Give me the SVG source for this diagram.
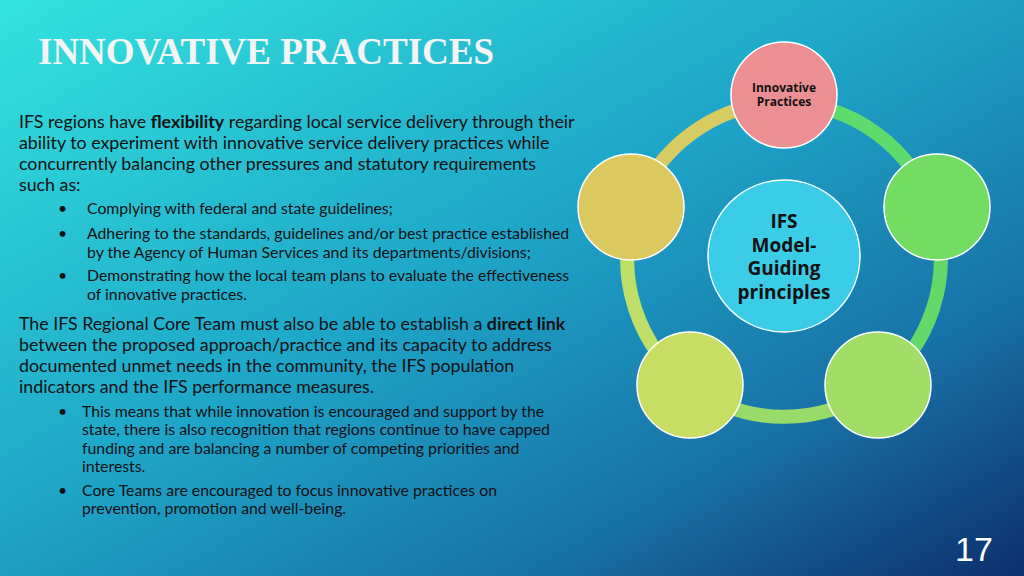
<svg xmlns="http://www.w3.org/2000/svg" width="1024" height="576" viewBox="0 0 1024 576">
<defs>
<linearGradient id="bg" x1="0" y1="0" x2="1" y2="1">
<stop offset="0" stop-color="#33e3de"/>
<stop offset="0.45" stop-color="#1ea6c9"/>
<stop offset="0.75" stop-color="#1873a8"/>
<stop offset="1" stop-color="#0d2f6e"/>
</linearGradient>
<style>
.t{font-family:Lato,"Open Sans",sans-serif;font-size:17.8px;fill:#111}
.b{font-family:Lato,"Open Sans",sans-serif;font-size:15.8px;fill:#111}
.n{stroke:#fff;stroke-width:1.5}
.r{fill:none;stroke-width:14}
.c{font-family:"Open Sans",sans-serif;font-weight:bold;fill:#111;text-anchor:middle}
</style>
</defs>
<rect width="1024" height="576" fill="url(#bg)"/>
<text x="38" y="64" font-family="Liberation Serif,serif" font-weight="bold" font-size="37" fill="#f4f4f4">INNOVATIVE PRACTICES</text>
<g id="text">
<text class="t" x="19" y="128">IFS regions have <tspan font-weight="bold">flexibility</tspan> regarding local service delivery through their</text>
<text class="t" x="19" y="149">ability to experiment with innovative service delivery  practices while</text>
<text class="t" x="19" y="170">concurrently balancing other pressures and statutory requirements</text>
<text class="t" x="19" y="191">such as:</text>
<text class="b" x="58" y="214">•</text><text class="b" x="87" y="214">Complying with federal and state guidelines;</text>
<text class="b" x="58" y="239">•</text><text class="b" x="87" y="239">Adhering to the standards, guidelines and/or best practice established</text>
<text class="b" x="87" y="258">by the Agency of Human Services and its departments/divisions;</text>
<text class="b" x="58" y="281">•</text><text class="b" x="87" y="281">Demonstrating how the local team plans to evaluate the effectiveness</text>
<text class="b" x="87" y="300">of innovative practices.</text>
<text class="t" x="19" y="330">The IFS Regional Core Team must also be able to establish a <tspan font-weight="bold">direct link</tspan></text>
<text class="t" x="19" y="351">between the proposed approach/practice and its capacity to address</text>
<text class="t" x="19" y="372">documented unmet needs in the community, the IFS population</text>
<text class="t" x="19" y="393">indicators and the IFS performance measures.</text>
<text class="b" x="58" y="417">•</text><text class="b" x="82" y="417">This means that while innovation is encouraged and support by the</text>
<text class="b" x="82" y="435">state, there is also recognition that regions continue to have capped</text>
<text class="b" x="82" y="454">funding and are balancing a number of competing priorities and</text>
<text class="b" x="82" y="472">interests.</text>
<text class="b" x="58" y="496">•</text><text class="b" x="82" y="496">Core Teams are encouraged to focus innovative practices on</text>
<text class="b" x="82" y="514">prevention, promotion and well-being.</text>
</g>
<g id="connectors">
<path class="r" stroke="#5fdb6e" d="M784 103 A157 157 0 0 1 933 211.5"/>
<path class="r" stroke="#66d86a" d="M933 211.5 A157 157 0 0 1 876 387"/>
<path class="r" stroke="#98db68" d="M876 387 A157 157 0 0 1 692 387"/>
<path class="r" stroke="#bfdf68" d="M692 387 A157 157 0 0 1 635 211.5"/>
<path class="r" stroke="#d7cc62" d="M635 211.5 A157 157 0 0 1 784 103"/>
</g>
<g id="n-top"><circle class="n" cx="784" cy="95" r="53" fill="#ec8f93"/>
<text class="c" x="784" y="92" font-size="12" font-weight="600">Innovative</text><text class="c" x="784" y="106" font-size="12" font-weight="600">Practices</text></g>
<g id="n-right"><circle class="n" cx="937" cy="207" r="53" fill="#73dc63"/></g>
<g id="n-br"><circle class="n" cx="878" cy="385" r="53" fill="#a3dd67"/></g>
<g id="n-bl"><circle class="n" cx="690" cy="385" r="53" fill="#c8dd63"/></g>
<g id="n-left"><circle class="n" cx="631" cy="207" r="53" fill="#dbc95f"/></g>
<g id="n-center"><circle class="n" cx="784" cy="256" r="76" fill="#3bcde8"/>
<text class="c" x="784" y="228" font-size="19">IFS</text>
<text class="c" x="784" y="252" font-size="19">Model-</text>
<text class="c" x="784" y="275" font-size="19">Guiding</text>
<text class="c" x="784" y="299" font-size="19">principles</text></g>
<text x="974" y="561" font-family="Liberation Sans,sans-serif" font-size="34" fill="#fff" text-anchor="middle">17</text>
</svg>
